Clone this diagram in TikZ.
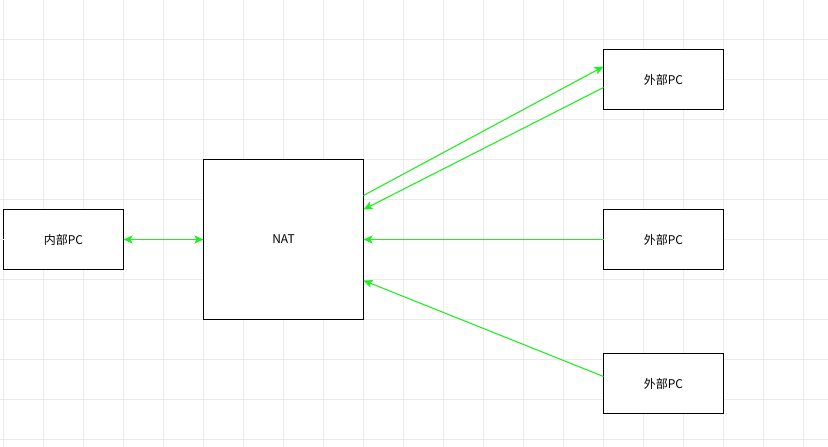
\documentclass[tikz,border=0pt]{standalone}
\usepackage{fontspec}
\usepackage{xcolor}
\usepackage{tikz}
\usetikzlibrary{arrows.meta,positioning}
\setmainfont{Noto Sans CJK SC}
\definecolor{linkgreen}{HTML}{1EF01E}
\definecolor{gridgray}{HTML}{EBEBEB}
\tikzset{
  netlink/.style={-{Stealth[length=9pt,width=8pt,inset=2pt]}, line width=1.1pt,
    draw=linkgreen},
  netlinkboth/.style={netlink, {Stealth[length=9pt,width=8pt,inset=2pt]}-{Stealth[length=9pt,width=8pt,inset=2pt]}},
  gridline/.style={draw=gridgray, line width=0.8pt},
  pcbox/.style={draw=black, line width=0.9pt, fill=white, minimum width=120pt,
    minimum height=60pt, inner sep=0pt, outer sep=0pt,
    font=\fontsize{12}{14}\selectfont},
  natbox/.style={pcbox, minimum width=160pt, minimum height=160pt}
}

\begin{document}
\begin{tikzpicture}[x=1pt, y=-1pt]
  \useasboundingbox (0,0) rectangle (828,447);
  \fill[white] (0,0) rectangle (828,447);
  % background grid
  \foreach \gx in {3.5,43.5,...,803.5}
    \draw[gridline] (\gx,0) -- (\gx,447);
  \foreach \gy in {39.5,79.5,...,199.5,279.5,319.5,...,439.5}
    \draw[gridline] (0,\gy) -- (828,\gy);

  \node[pcbox] (inpc) at (63.5,239.5) {内部PC};
  \node[natbox, right=80pt of inpc] (nat) {NAT};
  \node[pcbox, right=240pt of nat] (extmid) {外部PC};
  \node[pcbox] (exttop) at (663.5,79.5) {外部PC};
  \node[pcbox] (extbot) at (663.5,383.5) {外部PC};

  % grid line behind the middle row
  \draw[gridline] (0,239.5) -- (inpc.west);
  \draw[gridline] (extmid.east) -- (828,239.5);

  \draw[netlinkboth] (inpc) -- (nat);
  \draw[netlink] ([yshift=44pt]nat.east) -- ([yshift=13pt]exttop.west);
  \draw[netlink] ([yshift=-8pt]exttop.west) -- ([yshift=30pt]nat.east);
  \draw[netlink] (extmid) -- (nat);
  \draw[netlink] ([yshift=7pt]extbot.west) -- ([yshift=-41pt]nat.east);
\end{tikzpicture}
\end{document}
